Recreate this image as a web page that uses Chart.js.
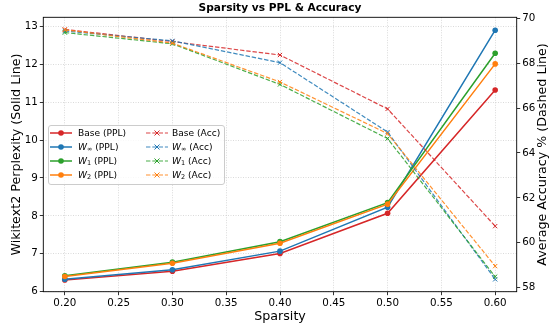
<!DOCTYPE html>
<html>
<head>
<meta charset="utf-8">
<script src="https://cdn.jsdelivr.net/npm/chart.js@4.4.0/dist/chart.umd.min.js"></script>
<style>
  body { margin: 0; background: #fff; font-family: "DejaVu Sans", sans-serif; }
  #wrap { position: relative; width: 551px; height: 327px; }
  #titulo { position: absolute; top: 1px; left: 80px; width: 400px; text-align: center; font-weight: bold; font-size: 10.6px; color: #000; }
  #legenda { position: absolute; left: 48px; top: 125px; width: 175px; height: 58px; border: 0.8px solid #ccc; border-radius: 3px; background: rgba(255,255,255,0.8); font-size: 9.1px; color: #000; }
  .item { position: absolute; height: 12px; line-height: 12px; white-space: nowrap; }
  .item svg { position: absolute; top: 0; }
  .item span { position: absolute; top: 0; }
  .item i { font-style: oblique; }
  .item sub { font-size: 6.5px; vertical-align: -1px; line-height: 0; }
</style>
</head>
<body>
<div id="wrap">
  <canvas id="grafico" width="551" height="327"></canvas>
  <div id="titulo">Sparsity vs PPL &amp; Accuracy</div>
  <div id="legenda"></div>
</div>
<script>
// Dados
const sparsity = [0.2, 0.3, 0.4, 0.5, 0.6]
const pplBase = [6.31, 6.54, 7.01, 8.07, 11.32]
const pplWinf = [6.33, 6.58, 7.07, 8.23, 12.90]
const pplW1 = [6.42, 6.78, 7.32, 8.35, 12.29]
const pplW2 = [6.40, 6.75, 7.28, 8.31, 12.01]
const accBase = [69.50, 68.96, 68.36, 65.96, 60.74]
const accWinf = [69.43, 68.99, 68.02, 64.93, 58.37]
const accW1 = [69.36, 68.86, 67.05, 64.64, 58.49]
const accW2 = [69.48, 68.89, 67.16, 64.86, 58.96]

// Ticks
const xTicks = [0.20, 0.25, 0.30, 0.35, 0.40, 0.45, 0.50, 0.55, 0.60]
const pplTicks = [6, 7, 8, 9, 10, 11, 12, 13]
const accTicks = [58, 60, 62, 64, 66, 68, 70]

const cores = { base: "#d62728", winf: "#1f77b4", w1: "#2ca02c", w2: "#ff7f0e" }
const coresAcc = { base: "rgba(214,39,40,0.85)", winf: "rgba(31,119,180,0.85)", w1: "rgba(44,160,44,0.85)", w2: "rgba(255,127,14,0.85)" }
const nomes = { base: "Base", winf: "<i>W</i><sub>∞</sub>", w1: "<i>W</i><sub>1</sub>", w2: "<i>W</i><sub>2</sub>" }

const series = [
  { chave: "base", dados: pplBase, tipo: "ppl" },
  { chave: "winf", dados: pplWinf, tipo: "ppl" },
  { chave: "w1", dados: pplW1, tipo: "ppl" },
  { chave: "w2", dados: pplW2, tipo: "ppl" },
  { chave: "base", dados: accBase, tipo: "acc" },
  { chave: "winf", dados: accWinf, tipo: "acc" },
  { chave: "w1", dados: accW1, tipo: "acc" },
  { chave: "w2", dados: accW2, tipo: "acc" }
]

const datasets = series.map((s, i) => {
  const ppl = s.tipo === "ppl"
  return {
    data: sparsity.map((x, j) => ({ x, y: s.dados[j] })),
    yAxisID: ppl ? "yPPL" : "yAcc",
    borderColor: ppl ? cores[s.chave] : coresAcc[s.chave],
    backgroundColor: cores[s.chave],
    borderWidth: ppl ? 1.5 : 1.2,
    borderDash: ppl ? [] : [4.4, 1.9],
    pointStyle: ppl ? "circle" : "crossRot",
    pointRadius: ppl ? 2.8 : 3,
    pointBorderWidth: ppl ? 0 : 1,
    pointBorderColor: cores[s.chave],
    pointBackgroundColor: cores[s.chave],
    tension: 0,
    fill: false,
    order: 8 - i
  }
})

// Moldura do gráfico e título do eixo direito
const moldura = {
  id: "moldura",
  afterDraw(chart) {
    const { ctx, chartArea: a } = chart
    ctx.save()
    ctx.strokeStyle = "#000"
    ctx.lineWidth = 0.9
    ctx.strokeRect(a.left, a.top, a.right - a.left, a.bottom - a.top)
    ctx.translate(543, (a.top + a.bottom) / 2)
    ctx.rotate(-Math.PI / 2)
    ctx.fillStyle = "#000"
    ctx.font = "12.7px 'DejaVu Sans'"
    ctx.textAlign = "center"
    ctx.textBaseline = "middle"
    ctx.fillText("Average Accuracy % (Dashed Line)", 0, 0)
    ctx.restore()
  }
}

const fonteTick = { family: "DejaVu Sans", size: 10.3 }
const fonteTitulo = { family: "DejaVu Sans", size: 12.7 }
const gradeCor = "rgba(176,176,176,0.6)"

new Chart(document.getElementById("grafico").getContext("2d"), {
  type: "line",
  data: { datasets },
  plugins: [moldura],
  options: {
    responsive: false,
    animation: false,
    layout: { padding: { top: 17.3, left: 0, right: 0, bottom: 0 } },
    plugins: { legend: { display: false }, tooltip: { enabled: false }, title: { display: false } },
    scales: {
      x: {
        type: "linear",
        min: 0.18,
        max: 0.62,
        afterBuildTicks: s => { s.ticks = xTicks.map(v => ({ value: v })) },
        afterFit: s => { s.height = 35.3 },
        ticks: { font: fonteTick, color: "#000", padding: 1.5, maxRotation: 0, callback: v => v.toFixed(2) },
        grid: { color: gradeCor, lineWidth: 0.8, tickColor: "#000", tickLength: 3.5, tickWidth: 0.8, tickBorderDash: [] },
        border: { display: false, dash: [1, 1.5] },
        title: { display: true, text: "Sparsity", font: fonteTitulo, color: "#000", padding: { top: 0, bottom: 3 } }
      },
      yPPL: {
        type: "linear",
        position: "left",
        min: 6,
        max: 13.24,
        afterBuildTicks: s => { s.ticks = pplTicks.map(v => ({ value: v })) },
        afterFit: s => { s.width = 43.3 },
        ticks: { font: fonteTick, color: "#000", padding: 2 },
        grid: { color: gradeCor, lineWidth: 0.8, tickColor: "#000", tickLength: 3.5, tickWidth: 0.8, tickBorderDash: [] },
        border: { display: false, dash: [1, 1.5] },
        title: { display: true, text: "Wikitext2 Perplexity (Solid Line)", font: fonteTitulo, color: "#000", padding: { top: 9, bottom: 0 } }
      },
      yAcc: {
        type: "linear",
        position: "right",
        min: 57.82,
        max: 70.04,
        afterBuildTicks: s => { s.ticks = accTicks.map(v => ({ value: v })) },
        afterFit: s => { s.width = 34.3 },
        ticks: { font: fonteTick, color: "#000", padding: 2 },
        grid: { drawOnChartArea: false, tickColor: "#000", tickLength: 3.5, tickWidth: 0.8 },
        border: { display: false }
      }
    }
  }
})

// Legenda em HTML
const legenda = document.getElementById("legenda")
const linhas = ["base", "winf", "w1", "w2"]
linhas.forEach((k, r) => {
  ;[["ppl", 1, 29], ["acc", 97, 123]].forEach(([tipo, xLinha, xTexto]) => {
    const div = document.createElement("div")
    div.className = "item"
    div.style.top = (1 + r * 14) + "px"
    div.style.left = "0px"
    const marcador = tipo === "ppl"
      ? `<circle cx="11" cy="6" r="2.8" fill="${cores[k]}"/>`
      : `<path d="M8.5 3.5 L13.5 8.5 M13.5 3.5 L8.5 8.5" stroke="${cores[k]}" stroke-width="1"/>`
    const linha = tipo === "ppl"
      ? `<line x1="0" y1="6" x2="22" y2="6" stroke="${cores[k]}" stroke-width="1.5"/>`
      : `<line x1="0" y1="6" x2="22" y2="6" stroke="${coresAcc[k]}" stroke-width="1.2" stroke-dasharray="4.4 1.9"/>`
    div.innerHTML = `<svg width="22" height="12" style="left:${xLinha}px">${linha}${marcador}</svg>` +
      `<span style="left:${xTexto}px">${nomes[k]} (${tipo === "ppl" ? "PPL" : "Acc"})</span>`
    legenda.appendChild(div)
  })
})
</script>
</body>
</html>
